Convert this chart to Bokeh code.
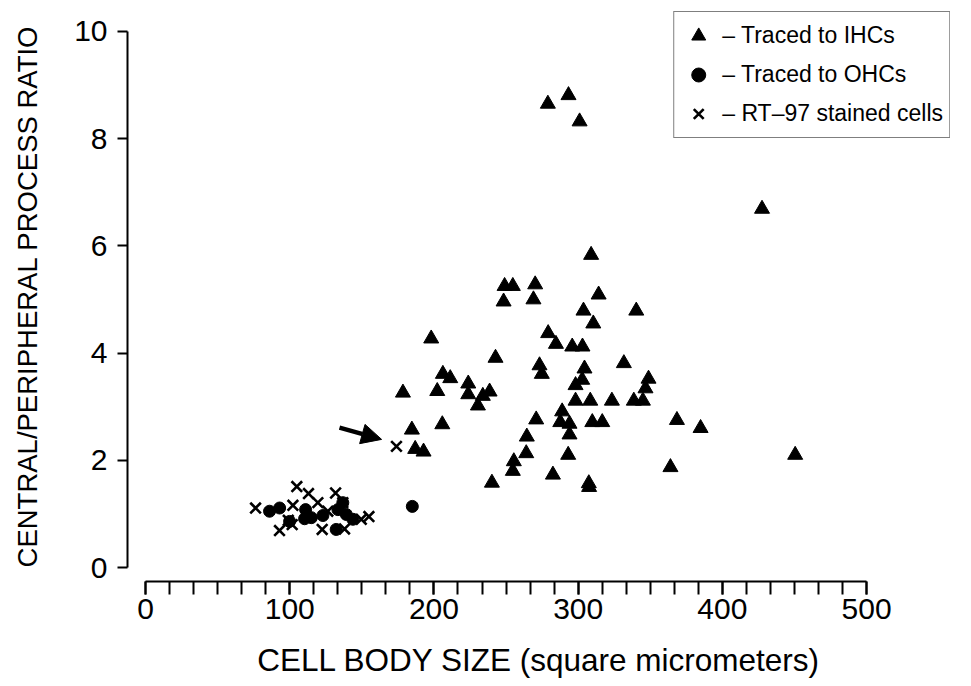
from bokeh.plotting import figure
from bokeh.models import (Range1d, FixedTicker, Legend, LegendItem, Arrow, NormalHead)
from bokeh.embed import file_html
from bokeh.resources import INLINE

# --- data ---
ihc_x = [279, 293.3, 301, 427.5, 450.5, 309, 270.2, 269, 314.2, 303.7, 340.3, 310.5,
         279.2, 284.6, 295.9, 303, 273.2, 274.8, 304.4, 331.7, 348.8, 346.7, 302.8,
         298.2, 298.2, 308.4, 323.4, 338.6, 344.9, 288.9, 270.9, 287.6, 294, 294,
         309.8, 316.7, 368.5, 264.4, 264, 293.1, 282.5, 307.4, 307.6, 364, 384.9,
         198.1, 242.7, 206.2, 211.3, 178.5, 202.3, 223.8, 223.8, 238.6, 233.9, 230.5,
         205.8, 184.7, 187, 192.8, 255.4, 254.7, 240.2, 249, 254.7, 248.3]
ihc_y = [8.65, 8.81, 8.32, 6.69, 2.10, 5.83, 5.28, 5.00, 5.09, 4.79, 4.79, 4.55,
         4.37, 4.17, 4.12, 4.12, 3.77, 3.61, 3.71, 3.81, 3.52, 3.34, 3.50,
         3.40, 3.11, 3.11, 3.11, 3.11, 3.11, 2.91, 2.76, 2.71, 2.68, 2.48,
         2.71, 2.71, 2.75, 2.44, 2.13, 2.10, 1.73, 1.57, 1.50, 1.87, 2.60,
         4.27, 3.91, 3.61, 3.53, 3.26, 3.29, 3.43, 3.23, 3.28, 3.20, 3.02,
         2.67, 2.57, 2.21, 2.16, 1.98, 1.80, 1.58, 5.25, 5.25, 4.96]

ohc_x = [86, 93, 99.9, 111, 110.3, 115, 123, 133.4, 136.8, 139.2, 143.8, 132.2, 185]
ohc_y = [1.05, 1.11, 0.86, 1.08, 0.91, 0.93, 0.97, 1.08, 1.21, 0.99, 0.90, 0.71, 1.14]

rt_x = [76.3, 104.9, 113, 131.8, 102.2, 119.5, 136.8, 92.9, 101.7, 122.5, 126.4, 138,
        149.6, 154.9, 174, 99]
rt_y = [1.11, 1.51, 1.38, 1.39, 1.16, 1.21, 1.21, 0.69, 0.80, 0.71, 1.05, 0.72,
        0.90, 0.95, 2.26, 0.88]

arrow_start = (134.5, 2.61)
arrow_end = (163.7, 2.39)

x_major = [0, 100, 200, 300, 400, 500]
x_minor = [i * 100 / 6 for i in range(31)]
y_major = [0, 2, 4, 6, 8, 10]

labels = ["\u2013 Traced to IHCs", "\u2013 Traced to OHCs", "\u2013 RT\u201397 stained cells"]

SANS = "'Liberation Sans', sans-serif"

p = figure(frame_width=823, frame_height=570, output_backend="svg",
           toolbar_location=None, x_range=Range1d(-12.5, 558.2),
           y_range=Range1d(-0.261, 10.373),
           min_border_left=127, min_border_right=5, min_border_top=11,
           min_border_bottom=84)
p.outline_line_color = None
p.grid.visible = False
p.background_fill_color = "white"
p.border_fill_color = "white"

r_ihc = p.scatter(ihc_x, ihc_y, marker="triangle", size=15, fill_color="black",
                  line_color="black")
r_ohc = p.scatter(ohc_x, ohc_y, marker="circle", size=12, fill_color="black",
                  line_color="black")
r_rt = p.scatter(rt_x, rt_y, marker="x", size=15, line_color="black", line_width=2.6)

p.add_layout(Arrow(end=NormalHead(size=20, fill_color="black", line_color="black"),
                   x_start=arrow_start[0], y_start=arrow_start[1],
                   x_end=arrow_end[0], y_end=arrow_end[1],
                   line_width=4.5, line_color="black"))

for ax in (p.xaxis[0], p.yaxis[0]):
    ax.axis_line_width = 2
    ax.axis_line_color = "black"
    ax.major_tick_line_width = 2
    ax.minor_tick_line_width = 2
    ax.major_tick_in = 0
    ax.minor_tick_in = 0
    ax.major_label_text_color = "black"
    ax.axis_label_text_color = "black"
    ax.axis_label_text_font_style = "normal"
    ax.major_label_text_font = SANS
    ax.axis_label_text_font = SANS

xa = p.xaxis[0]
xa.ticker = FixedTicker(ticks=x_major, minor_ticks=x_minor)
xa.bounds = (0, 500)
xa.major_tick_out = 13
xa.minor_tick_out = 13
xa.major_label_standoff = 4
xa.major_label_text_font_size = "30px"
xa.axis_label = "CELL BODY SIZE (square micrometers)"
xa.axis_label_text_font_size = "31.5px"
xa.axis_label_standoff = 20

ya = p.yaxis[0]
ya.ticker = FixedTicker(ticks=y_major, minor_ticks=[])
ya.bounds = (0, 10)
ya.major_tick_out = 10
ya.minor_tick_out = 0
ya.major_label_standoff = 10
ya.major_label_text_font_size = "30px"
ya.axis_label = "CENTRAL/PERIPHERAL PROCESS RATIO"
ya.axis_label_text_font_size = "27.5px"
ya.axis_label_standoff = 28

legend = Legend(items=[LegendItem(label=labels[0], renderers=[r_ihc]),
                       LegendItem(label=labels[1], renderers=[r_ohc]),
                       LegendItem(label=labels[2], renderers=[r_rt])],
                location="top_right")
legend.margin = 0
legend.padding = 6
legend.spacing = 4
legend.glyph_width = 36
legend.glyph_height = 35
legend.label_standoff = 6
legend.label_text_font = SANS
legend.label_text_font_size = "23px"
legend.label_text_color = "black"
legend.border_line_color = "black"
legend.border_line_width = 1.5
legend.background_fill_alpha = 1
p.add_layout(legend)

open("out.html", "w").write(file_html(p, INLINE))
